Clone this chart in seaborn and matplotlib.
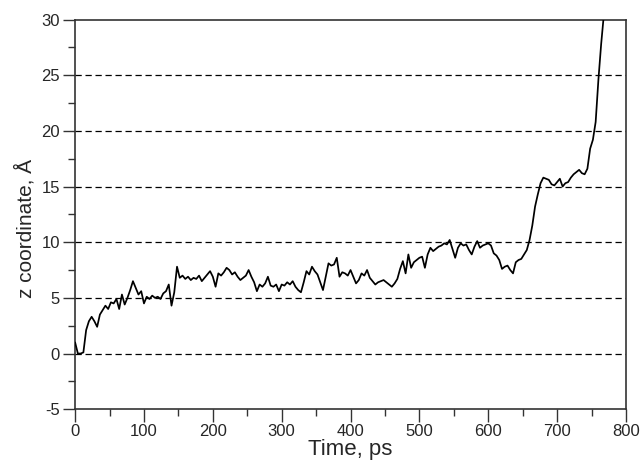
import matplotlib
matplotlib.use("Agg")
import matplotlib.pyplot as plt
import seaborn as sns
from matplotlib.ticker import MultipleLocator

# z coordinate trajectory (ps, Angstrom)
time_ps = [
    0, 4, 8, 12, 16, 20, 24, 28, 32, 36, 40, 44, 48, 52, 56, 60, 64, 68, 72, 76,
    80, 84, 88, 92, 96, 100, 104, 108, 112, 116, 120, 124, 128, 132, 136, 140, 144, 148, 152, 156,
    160, 164, 168, 172, 176, 180, 184, 188, 192, 196, 200, 204, 208, 212, 216, 220, 224, 228, 232, 236,
    240, 244, 248, 252, 256, 260, 264, 268, 272, 276, 280, 284, 288, 292, 296, 300, 304, 308, 312, 316,
    320, 324, 328, 332, 336, 340, 344, 348, 352, 356, 360, 364, 368, 372, 376, 380, 384, 388, 392, 396,
    400, 404, 408, 412, 416, 420, 424, 428, 432, 436, 440, 444, 448, 452, 456, 460, 464, 468, 472, 476,
    480, 484, 488, 492, 496, 500, 504, 508, 512, 516, 520, 524, 528, 532, 536, 540, 544, 548, 552, 556,
    560, 564, 568, 572, 576, 580, 584, 588, 592, 596, 600, 604, 608, 612, 616, 620, 624, 628, 632, 636,
    640, 644, 648, 652, 656, 660, 664, 668, 672, 676, 680, 684, 688, 692, 696, 700, 704, 708, 712, 716,
    720, 724, 728, 732, 736, 740, 744, 748, 752, 756, 760, 764, 768,
]
z_coord = [
    1.0, 0.0, 0.0, 0.1, 2.1, 2.9, 3.3, 2.9, 2.4, 3.5, 3.9, 4.3, 4.0, 4.6, 4.5, 4.9, 4.0, 5.3, 4.4, 5.0,
    5.7, 6.5, 5.9, 5.3, 5.6, 4.5, 5.1, 4.9, 5.2, 5.0, 5.1, 4.9, 5.4, 5.6, 6.2, 4.3, 5.5, 7.8, 6.8, 7.0,
    6.7, 6.9, 6.6, 6.8, 6.7, 7.0, 6.5, 6.8, 7.1, 7.4, 6.9, 6.0, 7.2, 7.0, 7.3, 7.7, 7.5, 7.1, 7.3, 6.9,
    6.6, 6.8, 7.0, 7.5, 6.9, 6.4, 5.6, 6.2, 6.0, 6.3, 6.9, 6.1, 6.0, 6.2, 5.6, 6.2, 6.1, 6.4, 6.2, 6.5,
    6.0, 5.7, 5.5, 6.4, 7.4, 7.1, 7.8, 7.4, 7.1, 6.4, 5.7, 6.9, 8.1, 7.9, 8.0, 8.6, 6.9, 7.3, 7.2, 7.0,
    7.5, 6.9, 6.3, 6.6, 7.2, 7.0, 7.5, 6.8, 6.5, 6.2, 6.4, 6.5, 6.6, 6.4, 6.2, 6.0, 6.3, 6.7, 7.6, 8.3,
    7.2, 8.9, 7.7, 8.2, 8.4, 8.6, 8.7, 7.7, 8.9, 9.5, 9.2, 9.4, 9.6, 9.7, 9.9, 9.8, 10.2, 9.4, 8.6, 9.5,
    9.9, 9.7, 9.8, 9.3, 8.9, 9.6, 10.1, 9.5, 9.7, 9.8, 9.9, 9.7, 9.0, 8.8, 8.4, 7.6, 7.8, 7.9, 7.5, 7.2,
    8.2, 8.4, 8.5, 8.9, 9.3, 10.2, 11.5, 13.2, 14.3, 15.3, 15.8, 15.7, 15.6, 15.2, 15.1, 15.4, 15.7, 15.0, 15.3, 15.4,
    15.8, 16.1, 16.3, 16.5, 16.2, 16.1, 16.6, 18.4, 19.2, 20.8, 24.6, 27.8, 30.5,
]

x_ticks = [0, 100, 200, 300, 400, 500, 600, 700, 800]
y_ticks = [-5, 0, 5, 10, 15, 20, 25, 30]
grid_levels = [0, 5, 10, 15, 20, 25]

sns.set_style("white")
plt.rcParams['font.family'] = ['Liberation Sans Narrow', 'Liberation Sans', 'DejaVu Sans']
plt.rcParams['axes.unicode_minus'] = False

fig = plt.figure(figsize=(6.42, 4.65), dpi=100)
ax = fig.add_axes([0.117, 0.12, 0.858, 0.838])

for lev in grid_levels:
    ax.axhline(lev, color='black', lw=0.9, ls=(0, (5, 3)), zorder=1)

sns.lineplot(x=time_ps, y=z_coord, color='black', lw=1.25, estimator=None, ax=ax, zorder=3)

ax.set_xlim(0, 800)
ax.set_ylim(-5, 30)
ax.set_xticks(x_ticks)
ax.set_yticks(y_ticks)
ax.xaxis.set_minor_locator(MultipleLocator(50))
ax.yaxis.set_minor_locator(MultipleLocator(2.5))
ax.tick_params(which='major', direction='out', length=9, width=1, color='#333333',
               labelsize=12, pad=2, bottom=True, left=True)
ax.tick_params(which='minor', direction='out', length=5, width=1, color='#333333',
               bottom=True, left=True)

for s in ax.spines.values():
    s.set_color('#333333')
    s.set_linewidth(1.2)

ax.set_xlabel("Time, ps", fontsize=16, labelpad=0)
ax.set_ylabel("z coordinate, Å", fontsize=15)
ax.yaxis.set_label_coords(-0.072, 0.464)

fig.savefig("out.png", dpi=100)
